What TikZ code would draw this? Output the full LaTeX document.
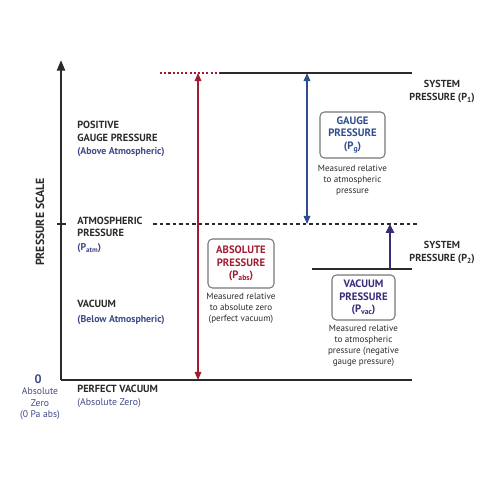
\documentclass[tikz,border=0pt]{standalone}
\usepackage{fontspec}
\setmainfont{PT Sans}
\usetikzlibrary{arrows.meta}
\definecolor{cred}{HTML}{A31B30}
\definecolor{cblue}{HTML}{2E4D8F}
\definecolor{cpurple}{HTML}{3A2A78}
\definecolor{cnavy}{HTML}{3E4A86}
\definecolor{ctext}{HTML}{2A2A2A}
\definecolor{cbox}{HTML}{777777}
\newcommand\mysub[1]{\raisebox{-0.4ex}{\scalebox{0.72}{#1}}}
\begin{document}
\begin{tikzpicture}[x=0.02cm,y=-0.02cm,
  lbl/.style={font=\bfseries\fontsize{5.9}{7.3}\selectfont, text=ctext, anchor=north west, inner sep=0, align=left},
  sublbl/.style={font=\fontsize{5.6}{6.5}\selectfont, text=cnavy, anchor=west, inner sep=0},
  syslbl/.style={font=\bfseries\fontsize{5.8}{7.4}\selectfont, text=ctext, inner sep=0, align=center, anchor=north},
  kindbox/.style={draw=cbox, rounded corners=2.5pt, line width=0.6pt, align=center, inner sep=0,
     font=\bfseries\fontsize{6.1}{7}\selectfont},
  note/.style={font=\fontsize{5.15}{6.3}\selectfont, text=ctext, align=center, anchor=north, inner sep=0},
  twotips/.style={{Triangle[length=4.6pt,width=3.8pt]}-{Triangle[length=4.6pt,width=3.8pt]}}
]
\useasboundingbox (0,0) rectangle (500,500);

% levels
\coordinate (axB) at (61,380);
\coordinate (axT) at (61,60);
\coordinate (baseR) at (412,380);
\coordinate (p1D) at (160,73);
\coordinate (p1L) at (220,73);
\coordinate (p1R) at (412,73);
\coordinate (atmL) at (153,224);
\coordinate (atmR) at (418,224);
\coordinate (tickL) at (57,224);
\coordinate (tickR) at (66,224);
\coordinate (p2L) at (312,269);
\coordinate (p2R) at (412,269);
\coordinate (redT) at (198,73);
\coordinate (redB) at (198,380);
\coordinate (bluT) at (307,73);
\coordinate (bluB) at (307,224);
\coordinate (purB) at (390,269);
\coordinate (purT) at (390,224);

% axis and lines
\draw[line width=1.3pt, ctext, -{Triangle[length=6pt,width=4.5pt]}] (axB) -- (axT);
\draw[line width=1.2pt, ctext] (axB) -- (baseR);
\draw[line width=1.2pt, ctext] (p1L) -- (p1R);
\draw[line width=0.6pt, cred, dash pattern=on 1.2pt off 1.2pt] (p1D) -- (p1L);
\draw[line width=0.7pt, ctext, dash pattern=on 2.2pt off 1.5pt] (atmL) -- (atmR);
\draw[line width=0.9pt, ctext] (tickL) -- (tickR);
\draw[line width=1.1pt, ctext] (p2L) -- (p2R);

% arrows
\draw[line width=0.7pt, cred, twotips] (redT) -- (redB);
\draw[line width=0.7pt, cblue, twotips] (bluT) -- (bluB);
\draw[line width=1.2pt, cpurple, -{Triangle[length=5pt,width=4.6pt]}] (purB) -- (purT);

% axis title
\node[font=\bfseries\fontsize{6.7}{8}\selectfont, text=ctext, rotate=90, inner sep=0] (scale) at (40,222) {PRESSURE SCALE};

% left labels
\node[lbl] (pos) at (77,120.5) {POSITIVE\\GAUGE PRESSURE};
\node[sublbl, font=\bfseries\fontsize{5.6}{6.5}\selectfont] (above) at (77,152) {(Above Atmospheric)};
\node[lbl, font=\bfseries\fontsize{5.9}{6.9}\selectfont] (atm) at (77,216.5) {ATMOSPHERIC\\PRESSURE};
\node[sublbl, font=\bfseries\fontsize{5.6}{6.5}\selectfont] (patm) at (77,248) {(P\mysub{atm})};
\node[lbl, anchor=west] (vac) at (77,304) {VACUUM};
\node[sublbl, font=\bfseries\fontsize{5.6}{6.5}\selectfont] (below) at (77,320) {(Below Atmospheric)};
\node[lbl, anchor=west] (pv) at (77,389) {PERFECT VACUUM};
\node[sublbl] (az) at (77,403) {(Absolute Zero)};

% zero
\node[font=\bfseries\fontsize{7}{8}\selectfont, text=cnavy, inner sep=0] (zero) at (38,379) {0};
\node[font=\fontsize{5.5}{6.6}\selectfont, text=cnavy, align=center, inner sep=0, anchor=north] (zlab) at (40,387.5) {Absolute\\Zero\\(0 Pa abs)};

% system labels
\node[syslbl] (sys1) at (442,80) {SYSTEM\\PRESSURE (P\mysub{1})};
\node[syslbl] (sys2) at (442,241) {SYSTEM\\PRESSURE (P\mysub{2})};

% boxes
\node[kindbox, text=cblue, minimum width=1.3cm, minimum height=0.92cm] (gauge) at (352.5,135) {GAUGE\\PRESSURE\\(P\mysub{g})};
\node[note] (gnote) at (352.5,164.5) {Measured relative\\to atmospheric\\pressure};

\node[kindbox, text=cred, minimum width=1.32cm, minimum height=0.98cm] (abs) at (241,263.5) {ABSOLUTE\\PRESSURE\\(P\mysub{abs})};
\node[note] (anote) at (241,292.5) {Measured relative\\to absolute zero\\(perfect vacuum)};

\node[kindbox, text=cpurple, minimum width=1.26cm, minimum height=0.9cm] (vacb) at (363.5,297.5) {VACUUM\\PRESSURE\\(P\mysub{vac})};
\node[note] (vnote) at (363.5,324.5) {Measured relative\\to atmospheric\\pressure (negative\\gauge pressure)};
\end{tikzpicture}
\end{document}
